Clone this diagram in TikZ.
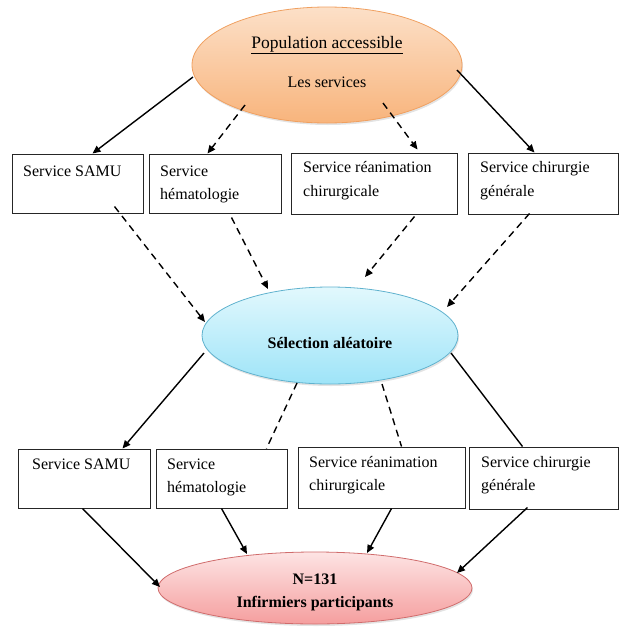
\documentclass[tikz,border=0pt]{standalone}
\usepackage{fontspec}
\setmainfont{Liberation Serif}
\usetikzlibrary{arrows.meta,shapes.geometric,calc,shadows}
\definecolor{orTop}{RGB}{252,224,200}
\definecolor{orBot}{RGB}{248,180,124}
\definecolor{orLine}{RGB}{240,160,96}
\definecolor{blTop}{RGB}{226,248,253}
\definecolor{blBot}{RGB}{158,228,248}
\definecolor{blLine}{RGB}{96,178,206}
\definecolor{rdTop}{RGB}{253,228,228}
\definecolor{rdBot}{RGB}{245,158,158}
\definecolor{rdLine}{RGB}{208,108,108}
\begin{document}
\begin{tikzpicture}[x=1pt,y=-1pt,
  font=\fontsize{16}{23}\selectfont,
  oval/.style={ellipse, inner sep=0pt, line width=0.8pt,
    drop shadow={opacity=0.22,shadow xshift=1pt,shadow yshift=-2pt}},
  sbox/.style={draw=black!85, line width=1pt, rectangle, inner sep=0pt},
  txt/.style={anchor=base west, inner sep=0pt},
  ctxt/.style={anchor=base, inner sep=0pt},
  link/.style={line width=1.4pt, black},
  arr/.style={link, -{Triangle[length=8pt,width=7pt]}},
  dsh/.style={dash pattern=on 7pt off 5pt}
]
\useasboundingbox (0,0) rectangle (621,627);

% ellipses
\node[oval, draw=orLine, top color=orTop, bottom color=orBot,
      minimum width=270pt, minimum height=116pt] (T) at (327,65) {};
\node[oval, draw=blLine, top color=blTop, bottom color=blBot,
      minimum width=256pt, minimum height=97pt] (S) at (330,335.5) {};
\node[oval, draw=rdLine, top color=rdTop, bottom color=rdBot,
      minimum width=314pt, minimum height=72pt] (B) at (315,588) {};

\node[ctxt, font=\fontsize{17.5}{20}\selectfont] (tpop) at (327,48) {\underline{Population accessible}};
\node[ctxt] (tles) at (327,87) {Les services};
\node[ctxt] (tsel) at (330,348) {\textbf{Sélection aléatoire}};
\node[ctxt] (tn) at (315,584) {\textbf{N=131}};
\node[ctxt] (tinf) at (315,607) {\textbf{Infirmiers participants}};

% top boxes
\node[sbox, minimum width=131pt, minimum height=59pt] (b1) at (77.5,183.5) {};
\node[sbox, minimum width=132pt, minimum height=59pt] (b2) at (215,183.5) {};
\node[sbox, minimum width=166pt, minimum height=61pt] (b3) at (374,183.5) {};
\node[sbox, minimum width=150pt, minimum height=61pt] (b4) at (543,183.5) {};

\node[txt] (t1a) at (23,176) {Service SAMU};
\node[txt] (t2a) at (160,176) {Service};
\node[txt] (t2b) at (160,199) {hématologie};
\node[txt] (t3a) at (303,172) {Service réanimation};
\node[txt] (t3b) at (303,196) {chirurgicale};
\node[txt] (t4a) at (480,172) {Service chirurgie};
\node[txt] (t4b) at (480,196) {générale};

% bottom boxes
\node[sbox, minimum width=132pt, minimum height=59pt] (c1) at (84,478.5) {};
\node[sbox, minimum width=131pt, minimum height=59pt] (c2) at (221.5,478.5) {};
\node[sbox, minimum width=167pt, minimum height=61pt] (c3) at (381.5,477.5) {};
\node[sbox, minimum width=149pt, minimum height=62pt] (c4) at (543.5,478) {};

\node[txt] (u1a) at (32,469) {Service SAMU};
\node[txt] (u2a) at (167,469) {Service};
\node[txt] (u2b) at (167,492) {hématologie};
\node[txt] (u3a) at (309,467) {Service réanimation};
\node[txt] (u3b) at (309,490) {chirurgicale};
\node[txt] (u4a) at (481,467) {Service chirurgie};
\node[txt] (u4b) at (481,490) {générale};

% population -> services
\draw[arr] ($(T.center)+(-134,12)$) -- ($(b1.north west)+(81,0)$);
\draw[arr,dsh] ($(T.center)+(-82,40)$) -- ($(b2.north west)+(59,0)$);
\draw[arr,dsh] ($(T.center)+(56,38)$) -- ($(b3.north west)+(127,-3)$);
\draw[arr] ($(T.center)+(130,5)$) -- ($(b4.north west)+(67,0)$);

% services -> selection
\draw[arr,dsh] ($(b1.south west)+(103,-7)$) -- ($(S.center)+(-125,-13.5)$);
\draw[arr,dsh] ($(b2.south west)+(83,4)$) -- ($(S.center)+(-62,-46.5)$);
\draw[arr,dsh] ($(b3.south west)+(124,2)$) -- ($(S.center)+(35,-58.5)$);
\draw[arr,dsh] ($(b4.south west)+(62,-1)$) -- ($(S.center)+(117,-28.5)$);

% selection -> services
\draw[arr] ($(S.center)+(-126,17.5)$) -- ($(c1.north west)+(105,0)$);
\draw[link,dsh] ($(S.center)+(-33,47.5)$) -- ($(c2.north west)+(111,0)$);
\draw[link,dsh] ($(S.center)+(52,48.5)$) -- ($(c3.north west)+(104,0)$);
\draw[link] ($(S.center)+(121,17.5)$) -- ($(c4.north west)+(54,0)$);

% services -> participants
\draw[arr] ($(c1.south west)+(65,0)$) -- ($(B.center)+(-155,-1)$);
\draw[arr] ($(c2.south west)+(66,0)$) -- ($(B.center)+(-68,-34)$);
\draw[arr] ($(c3.south west)+(94,0)$) -- ($(B.center)+(52,-35)$);
\draw[arr] ($(c4.south west)+(59,-2)$) -- ($(B.center)+(142,-15)$);
\end{tikzpicture}
\end{document}
